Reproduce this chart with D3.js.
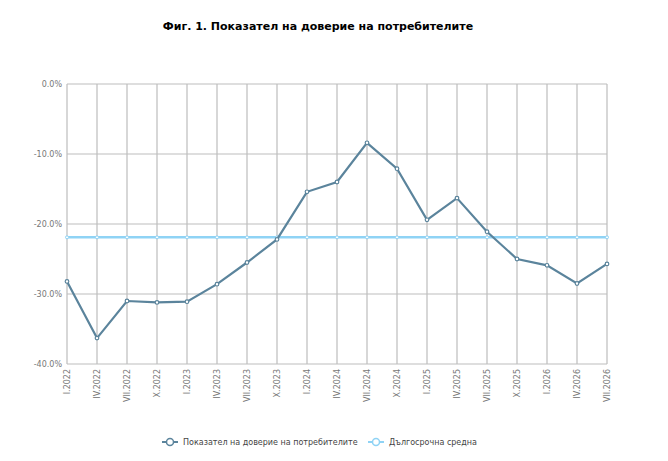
<!DOCTYPE html>
<html><head><meta charset="utf-8">
<script src="https://cdn.jsdelivr.net/npm/d3@7"></script>
<style>body{margin:0;background:#fff;}svg{display:block;}</style>
</head><body>
<svg id="c" width="668" height="461"></svg>
<script>
const categories = ["I.2022","IV.2022","VII.2022","X.2022","I.2023","IV.2023","VII.2023","X.2023","I.2024","IV.2024","VII.2024","X.2024","I.2025","IV.2025","VII.2025","X.2025","I.2026","IV.2026","VII.2026"];
const confidence = [-28.2,-36.3,-31.0,-31.2,-31.1,-28.6,-25.5,-22.2,-15.4,-14.0,-8.4,-12.1,-19.4,-16.3,-21.1,-25.0,-25.9,-28.5,-25.7];
const longTermAvg = [-21.9,-21.9,-21.9,-21.9,-21.9,-21.9,-21.9,-21.9,-21.9,-21.9,-21.9,-21.9,-21.9,-21.9,-21.9,-21.9,-21.9,-21.9,-21.9];
const yTicks = [0,-10,-20,-30,-40];
const seriesNames = ["Показател на доверие на потребителите","Дългосрочна средна"];
const title = "Фиг. 1. Показател на доверие на потребителите";

const svg = d3.select("#c");
const font = "DejaVu Sans, sans-serif";
const x = d3.scalePoint().domain(categories).range([67,607]);
const y = d3.scaleLinear().domain([-40,0]).range([364,84]);
const colMain = "#5b849c", colAvg = "#8fd3f5", grid = "#bdbdbd";

svg.append("text").attr("x",318).attr("y",30).attr("text-anchor","middle")
  .attr("font-family",font).attr("font-weight","bold").attr("font-size",11).attr("fill","#000").text(title);

// grid
const g = svg.append("g");
g.selectAll("line.h").data(yTicks).join("line").attr("class","h")
  .attr("x1",67).attr("x2",607).attr("y1",d=>y(d)).attr("y2",d=>y(d))
  .attr("stroke",grid).attr("stroke-width",1.2);
g.selectAll("line.v").data(categories).join("line").attr("class","v")
  .attr("x1",d=>x(d)).attr("x2",d=>x(d)).attr("y1",y(0)).attr("y2",y(-40))
  .attr("stroke",grid).attr("stroke-width",1.2);

// y axis labels
const ya = svg.append("g").attr("transform","translate(67,0)")
  .call(d3.axisLeft(y).tickValues(yTicks).tickSize(0).tickPadding(5).tickFormat(d=>d.toFixed(1)+"%"));
ya.select(".domain").remove();
ya.selectAll("text").attr("font-family",font).attr("font-size",8).attr("fill","#777");

// x axis labels
const xa = svg.append("g").attr("transform","translate(0,364)")
  .call(d3.axisBottom(x).tickSize(0).tickPadding(0));
xa.select(".domain").remove();
xa.selectAll("text").attr("font-family",font).attr("font-size",8).attr("fill","#777")
  .attr("text-anchor","end").attr("transform","rotate(-90)").attr("x",-5).attr("y",0).attr("dy","0.32em");

// lines
const line = d3.line().x((d,i)=>x(categories[i])).y(d=>y(d));
svg.append("path").datum(longTermAvg).attr("d",line).attr("fill","none").attr("stroke",colAvg).attr("stroke-width",2.5);
svg.selectAll("circle.a").data(longTermAvg).join("circle").attr("class","a")
  .attr("cx",(d,i)=>x(categories[i])).attr("cy",d=>y(d)).attr("r",1.5).attr("fill","#fff").attr("stroke",colAvg).attr("stroke-width",1);
svg.append("path").datum(confidence).attr("d",line).attr("fill","none").attr("stroke",colMain).attr("stroke-width",2.2);
svg.selectAll("circle.m").data(confidence).join("circle").attr("class","m")
  .attr("cx",(d,i)=>x(categories[i])).attr("cy",d=>y(d)).attr("r",1.8).attr("fill","#fff").attr("stroke",colMain).attr("stroke-width",1.2);

// legend
const leg = [{n:seriesNames[0],c:colMain,x:162},{n:seriesNames[1],c:colAvg,x:368}];
leg.forEach(l=>{
  svg.append("line").attr("x1",l.x).attr("x2",l.x+16).attr("y1",442).attr("y2",442).attr("stroke",l.c).attr("stroke-width",2);
  svg.append("circle").attr("cx",l.x+8).attr("cy",442).attr("r",3.5).attr("fill","#fff").attr("stroke",l.c).attr("stroke-width",1.5);
  svg.append("text").attr("x",l.x+21).attr("y",442).attr("dy","0.35em").attr("font-family",font).attr("font-size",8).attr("fill","#444").text(l.n);
});
</script>
</body></html>
